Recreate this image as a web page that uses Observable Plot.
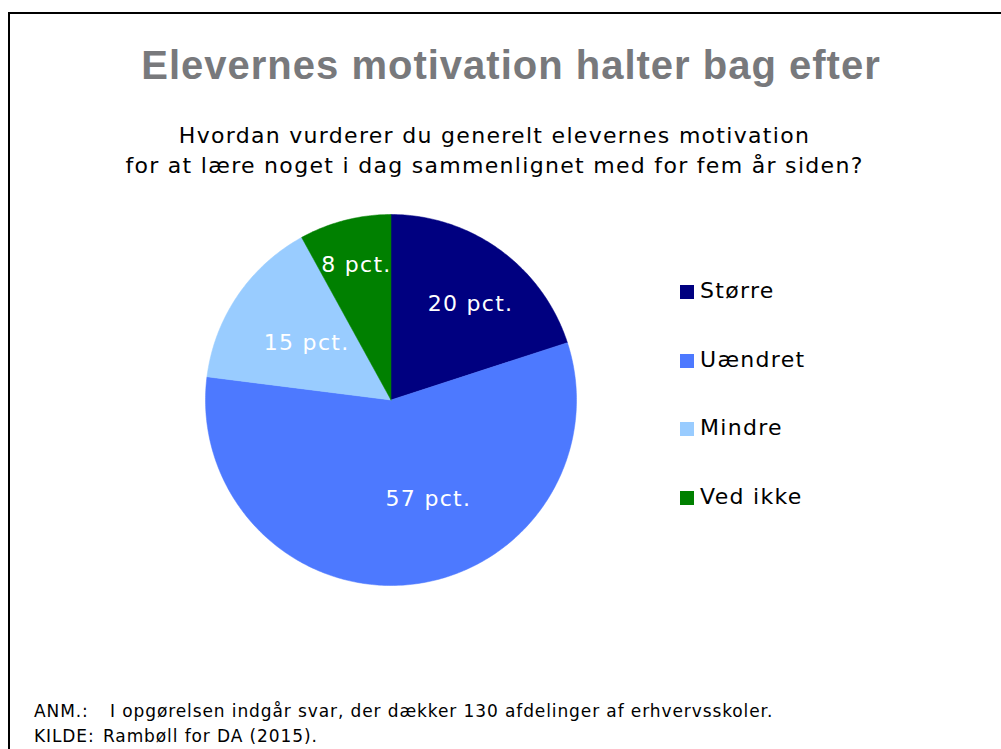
<!DOCTYPE html>
<html>
<head>
<meta charset="utf-8">
<script src="https://cdn.jsdelivr.net/npm/d3@7"></script>
<script src="https://cdn.jsdelivr.net/npm/@observablehq/plot@0.6"></script>
<style>
  html, body { margin: 0; padding: 0; background: #fff; }
  #page { position: relative; width: 1001px; height: 749px; overflow: hidden; font-family: Verdana, "DejaVu Sans", sans-serif; }
  #frame { position: absolute; left: 8px; top: 12px; width: 1001px; height: 760px; border-left: 2px solid #000; border-top: 2px solid #000; box-sizing: border-box; }
  #title { position: absolute; left: 0; width: 1022px; top: 44.7px; line-height: 40px; text-align: center; font-family: "Liberation Sans", Arial, sans-serif; font-size: 40px; letter-spacing: 1px; font-weight: bold; color: #78797c; white-space: nowrap; }
  #subtitle { position: absolute; left: 0; width: 989px; top: 120.7px; text-align: center; font-size: 22px; letter-spacing: 1.3px; line-height: 30px; color: #000; white-space: nowrap; }
  #chart { position: absolute; left: 0; top: 0; }
  #chart text { letter-spacing: 1.3px; }
  .leg { position: absolute; left: 680px; font-size: 22px; letter-spacing: 1.3px; color: #000; white-space: nowrap; height: 28px; line-height: 28px; }
  .leg i { display: inline-block; width: 14px; height: 14px; margin-right: 6px; vertical-align: -1px; }
  #notes { position: absolute; left: 34px; top: 698.6px; font-size: 17px; letter-spacing: 0.9px; line-height: 25px; color: #000; white-space: nowrap; }
  #notes span { display: inline-block; }
</style>
</head>
<body>
<div id="page">
  <div id="frame"></div>
  <div id="title">Elevernes motivation halter bag efter</div>
  <div id="subtitle">Hvordan vurderer du generelt elevernes motivation<br>for at lære noget i dag sammenlignet med for fem år siden?</div>
  <div id="chart"></div>
  <div id="legend"></div>
  <div id="notes"><div><span style="width:76px">ANM.:</span>I opgørelsen indgår svar, der dækker 130 afdelinger af erhvervsskoler.</div><div><span style="width:69px">KILDE:</span>Rambøll for DA (2015).</div></div>
</div>
<script>
const categories = ["Større", "Uændret", "Mindre", "Ved ikke"];
const values = [20, 57, 15, 8];
const labels = ["20 pct.", "57 pct.", "15 pct.", "8 pct."];
const colors = ["#000080", "#4d79ff", "#99ccff", "#008000"];

// label placement (layout only): radial fraction and angle shift in degrees
const labelRadius = [0.674, 0.568, 0.55, 0.75];
const labelShift = [3.5, -15.4, 0, 0];

// Build slice outlines from the pie angles (clockwise from 12 o'clock)
const pie = d3.pie().sort(null).value(d => d)(values);
const outline = [];
const labelPts = [];
pie.forEach((p, i) => {
  const key = categories[i];
  outline.push({key, x: 0, y: 0});
  const n = Math.max(8, Math.ceil((p.endAngle - p.startAngle) * 80));
  for (let k = 0; k <= n; k++) {
    const a = p.startAngle + (p.endAngle - p.startAngle) * k / n;
    outline.push({key, x: Math.sin(a), y: Math.cos(a)});
  }
  outline.push({key, x: 0, y: 0});
  const m = (p.startAngle + p.endAngle) / 2 + labelShift[i] * Math.PI / 180;
  const rf = labelRadius[i];
  labelPts.push({key, label: labels[i], x: rf * Math.sin(m), y: rf * Math.cos(m)});
});

const cx = 390.5, cy = 399.5, R = 185.5;
const chart = Plot.plot({
  width: 1001,
  height: 749,
  margin: 0,
  x: {domain: [-1, 1], range: [cx - R, cx + R], axis: null},
  y: {domain: [-1, 1], range: [cy + R, cy - R], axis: null},
  color: {domain: categories, range: colors},
  style: {background: "transparent", overflow: "visible"},
  marks: [
    Plot.line(outline, {x: "x", y: "y", z: "key", fill: "key", stroke: "key", strokeWidth: 0.5, curve: "linear"}),
    Plot.text(labelPts, {
      x: "x", y: "y", text: "label", fill: "#ffffff",
      fontSize: 22, fontFamily: "Verdana, 'DejaVu Sans', sans-serif"
    })
  ]
});
document.getElementById("chart").appendChild(chart);

const legend = document.getElementById("legend");
categories.forEach((c, i) => {
  const el = document.createElement("div");
  el.className = "leg";
  el.style.top = (277 + i * 68.7) + "px";
  el.innerHTML = `<i style="background:${colors[i]}"></i>${c}`;
  legend.appendChild(el);
});
</script>
</body>
</html>
